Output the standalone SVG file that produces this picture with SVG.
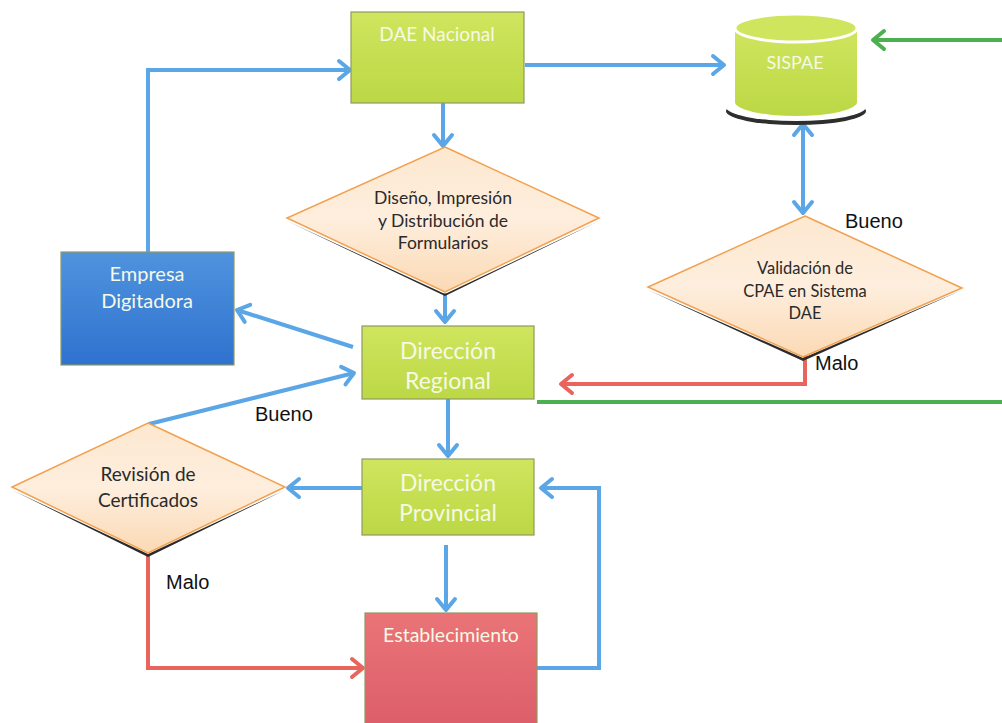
<svg xmlns="http://www.w3.org/2000/svg" width="1002" height="723" viewBox="0 0 1002 723">
<style>
.box{stroke:#8f9a62;stroke-width:1.2}
.lime{fill:url(#gLime)}
.ntxt{font-family:Lato,"Open Sans","Liberation Sans",sans-serif;fill:#f6f9e6;text-anchor:middle;dominant-baseline:central}
.dtxt{font-family:Lato,"Open Sans","Liberation Sans",sans-serif;fill:#2a2a2a;text-anchor:middle;dominant-baseline:central}
.lbl{font-family:"Liberation Sans",Arial,sans-serif;font-size:20px;fill:#111}
.dia{fill:url(#gPeach);stroke:#f2a04e;stroke-width:1.5}
.diash{fill:#2b2b2b}
.cb{fill:none;stroke:#5aa6e6;stroke-width:4}
.cr{fill:none;stroke:#e8655e;stroke-width:4}
.cg{fill:none;stroke:#4caf50;stroke-width:4}
</style>
<defs>
<linearGradient id="gLime" x1="0" y1="0" x2="0" y2="1">
<stop offset="0" stop-color="#cfe55e"/>
<stop offset="1" stop-color="#bcd845"/>
</linearGradient>
<linearGradient id="gBlue" x1="0" y1="0" x2="0" y2="1">
<stop offset="0" stop-color="#4f93de"/>
<stop offset="1" stop-color="#2f72cf"/>
</linearGradient>
<linearGradient id="gRed" x1="0" y1="0" x2="0" y2="1">
<stop offset="0" stop-color="#ea7478"/>
<stop offset="1" stop-color="#dc5e6a"/>
</linearGradient>
<linearGradient id="gPeach" x1="0" y1="0" x2="0" y2="1">
<stop offset="0" stop-color="#fde8d0"/>
<stop offset="0.5" stop-color="#feeedd"/>
<stop offset="1" stop-color="#fbd9b4"/>
</linearGradient>
<marker id="ab" viewBox="-15 -12 18 24" markerWidth="18" markerHeight="24" refX="0" refY="0" orient="auto-start-reverse" markerUnits="userSpaceOnUse">
<path d="M-11,-9 L0,0 L-11,9" fill="none" stroke="#5aa6e6" stroke-width="4" stroke-linecap="round" stroke-linejoin="round"/>
</marker>
<marker id="ar" viewBox="-15 -12 18 24" markerWidth="18" markerHeight="24" refX="0" refY="0" orient="auto" markerUnits="userSpaceOnUse">
<path d="M-11,-9 L0,0 L-11,9" fill="none" stroke="#e8655e" stroke-width="4" stroke-linecap="round" stroke-linejoin="round"/>
</marker>
<marker id="ag" viewBox="-15 -12 18 24" markerWidth="18" markerHeight="24" refX="0" refY="0" orient="auto" markerUnits="userSpaceOnUse">
<path d="M-11,-9 L0,0 L-11,9" fill="none" stroke="#4caf50" stroke-width="4" stroke-linecap="round" stroke-linejoin="round"/>
</marker>
</defs>
<rect width="1002" height="723" fill="#ffffff"/>

<g id="connectors">
<path class="cb" d="M148,252 V70 H350" marker-end="url(#ab)"/>
<path class="cb" d="M525,65 H724" marker-end="url(#ab)"/>
<path class="cb" d="M443,103 V146" marker-end="url(#ab)"/>
<path class="cb" d="M445,293 V322" marker-end="url(#ab)"/>
<path class="cb" d="M353,347 L237,310" marker-end="url(#ab)"/>
<path class="cb" d="M149,424 L354,373" marker-end="url(#ab)"/>
<path class="cb" d="M448,398 V456" marker-end="url(#ab)"/>
<path class="cb" d="M362,488 H288" marker-end="url(#ab)"/>
<path class="cb" d="M446,545 V610" marker-end="url(#ab)"/>
<path class="cb" d="M537,668 H599 V488 H541" marker-end="url(#ab)"/>
<path class="cb" d="M803,124 V213" marker-start="url(#ab)" marker-end="url(#ab)"/>
<path class="cr" d="M148,554 V668 H363" marker-end="url(#ar)"/>
<path class="cr" d="M805,356 V384 H561" marker-end="url(#ar)"/>
<path class="cg" d="M537,402 H1002"/>
<path class="cg" d="M1002,40 H873" marker-end="url(#ag)"/>
</g>

<g id="dae-nacional">
<rect class="box lime" x="351" y="12" width="173" height="91"/>
<text class="ntxt" x="437" y="33" font-size="19">DAE Nacional</text>
</g>

<g id="sispae">
<ellipse cx="796" cy="111" rx="70" ry="14" fill="#2e2e2e"/>
<ellipse cx="796" cy="107" rx="70" ry="14" fill="#ffffff"/>
<path d="M735,28 V102 A61,14 0 0 0 857,102 V28 Z" fill="url(#gLime)"/>
<ellipse cx="796" cy="28" rx="61" ry="14" fill="#cfe55e" stroke="#ffffff" stroke-width="3"/>
<text class="ntxt" x="795" y="62" font-size="18">SISPAE</text>
</g>

<g id="diseno">
<polygon class="diash" points="287,221 445,296 599,221 445,294"/>
<polygon class="dia" points="445,147 599,218 445,292 287,218"/>
<text class="dtxt" x="443" y="197" font-size="17.5">Diseño, Impresión</text>
<text class="dtxt" x="443" y="220" font-size="17.5">y Distribución de</text>
<text class="dtxt" x="443" y="242" font-size="17.5">Formularios</text>
</g>

<g id="validacion">
<polygon class="diash" points="648,290 803,361 962,290 803,358"/>
<polygon class="dia" points="805,216 962,288 803,357 648,287"/>
<text class="dtxt" x="805" y="268" font-size="16.5">Validación de</text>
<text class="dtxt" x="805" y="291" font-size="16.5">CPAE en Sistema</text>
<text class="dtxt" x="805" y="313" font-size="16.5">DAE</text>
</g>

<g id="empresa-digitadora">
<rect class="box" x="61" y="252" width="173" height="113" fill="url(#gBlue)" stroke="#3a6cb0"/>
<text class="ntxt" x="147" y="273" font-size="20">Empresa</text>
<text class="ntxt" x="147" y="300" font-size="20">Digitadora</text>
</g>

<g id="direccion-regional">
<rect class="box lime" x="362" y="326" width="172" height="73"/>
<text class="ntxt" x="448" y="350" font-size="23">Dirección</text>
<text class="ntxt" x="448" y="380" font-size="23">Regional</text>
</g>

<g id="revision">
<polygon class="diash" points="12,490 148,557 285,490 148,554"/>
<polygon class="dia" points="148,423 285,487 148,553 12,487"/>
<text class="dtxt" x="148" y="473" font-size="19">Revisión de</text>
<text class="dtxt" x="148" y="499" font-size="19">Certificados</text>
</g>

<g id="direccion-provincial">
<rect class="box lime" x="362" y="459" width="172" height="76"/>
<text class="ntxt" x="448" y="482" font-size="23">Dirección</text>
<text class="ntxt" x="448" y="512" font-size="23">Provincial</text>
</g>

<g id="establecimiento">
<rect class="box" x="365" y="613" width="172" height="112" fill="url(#gRed)" stroke="#b05060"/>
<text class="ntxt" x="451" y="634" font-size="19.5">Establecimiento</text>
</g>

<g id="labels">
<text class="lbl" x="845" y="228">Bueno</text>
<text class="lbl" x="815" y="370">Malo</text>
<text class="lbl" x="255" y="421">Bueno</text>
<text class="lbl" x="166" y="589">Malo</text>
</g>
</svg>
